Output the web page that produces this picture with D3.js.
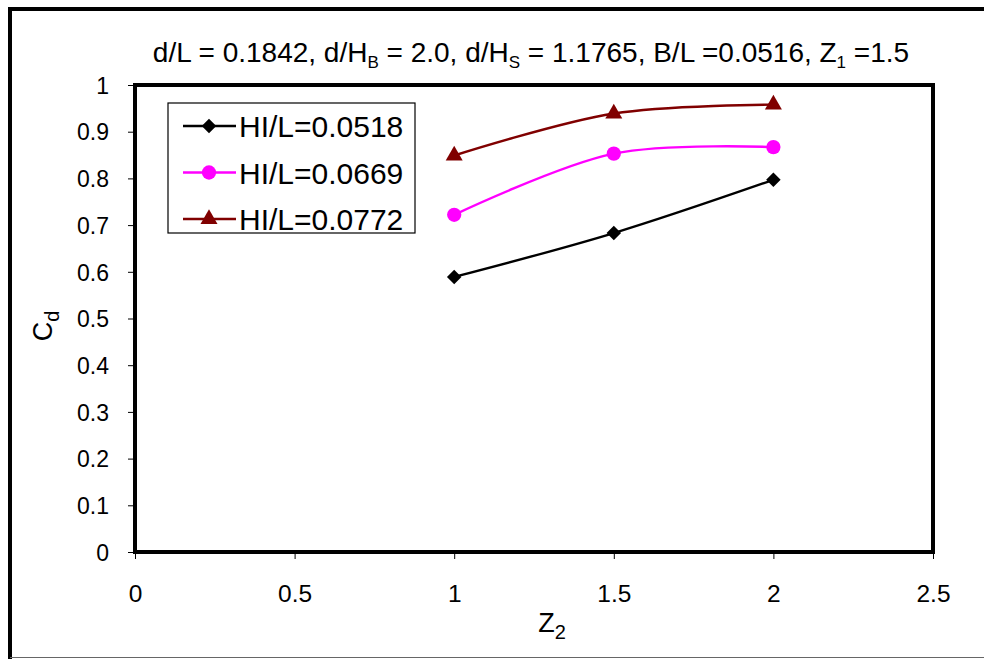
<!DOCTYPE html>
<html>
<head>
<meta charset="utf-8">
<script src="https://cdn.jsdelivr.net/npm/d3@7"></script>
<style>
  body { margin: 0; background: #fff; }
  text { font-family: "Liberation Sans", Arial, sans-serif; }
</style>
</head>
<body>
<svg width="984" height="659"></svg>
<script>
const z2 = [1, 1.5, 2];
const hl0518 = [0.589, 0.683, 0.797];
const hl0669 = [0.722, 0.853, 0.867];
const hl0772 = [0.849, 0.939, 0.958];
const seriesNames = ["HI/L=0.0518", "HI/L=0.0669", "HI/L=0.0772"];
const seriesColors = ["#000000", "#ff00ff", "#800000"];
const xTicks = [0, 0.5, 1, 1.5, 2, 2.5];
const yTicks = [0, 0.1, 0.2, 0.3, 0.4, 0.5, 0.6, 0.7, 0.8, 0.9, 1];

const svg = d3.select("svg");
const pLeft = 135, pRight = 933, pTop = 85, pBottom = 552;

const x = d3.scaleLinear().domain([0, 2.5]).range([pLeft, pRight]);
const y = d3.scaleLinear().domain([0, 1]).range([pBottom, pTop]);

// outer frame
svg.append("rect").attr("x", 10).attr("y", 9).attr("width", 1000).attr("height", 660)
  .attr("fill", "none").attr("stroke", "#000").attr("stroke-width", 4);
svg.append("line").attr("x1", 10).attr("x2", 984).attr("y1", 657.5).attr("y2", 657.5)
  .attr("stroke", "#666").attr("stroke-width", 1);

// axes
const xAxis = svg.append("g").attr("transform", `translate(0,${pBottom})`)
  .call(d3.axisBottom(x).tickValues(xTicks).tickFormat(d3.format("")).tickSize(7).tickSizeOuter(0));
const yAxis = svg.append("g").attr("transform", `translate(${pLeft},0)`)
  .call(d3.axisLeft(y).tickValues(yTicks).tickFormat(d3.format("")).tickSize(7).tickSizeOuter(0));
[xAxis, yAxis].forEach(g => {
  g.select(".domain").remove();
  g.selectAll("line").attr("stroke", "#000").attr("stroke-width", 1);
  g.selectAll("text").attr("fill", "#000")
    .attr("font-family", "Liberation Sans, Arial, sans-serif");
});
xAxis.selectAll("text").attr("font-size", 24.5).attr("y", 50).attr("dy", 0);
yAxis.selectAll("text").attr("font-size", 23).attr("x", -26).attr("dy", "0.36em");

// plot frame
svg.append("rect").attr("x", pLeft).attr("y", pTop)
  .attr("width", pRight - pLeft).attr("height", pBottom - pTop)
  .attr("fill", "none").attr("stroke", "#000").attr("stroke-width", 4);

// title
const title = svg.append("text").attr("x", 531).attr("y", 62).attr("text-anchor", "middle")
  .attr("font-size", 28).attr("fill", "#000");
title.append("tspan").text("d/L = 0.1842, d/H");
title.append("tspan").text("B").attr("font-size", 17).attr("dy", 6);
title.append("tspan").text(" = 2.0, d/H").attr("dy", -6);
title.append("tspan").text("S").attr("font-size", 17).attr("dy", 6);
title.append("tspan").text(" = 1.1765, B/L =0.0516, Z").attr("dy", -6);
title.append("tspan").text("1").attr("font-size", 17).attr("dy", 6);
title.append("tspan").text(" =1.5").attr("dy", -6);

// axis titles
const xt = svg.append("text").attr("x", 552).attr("y", 632).attr("text-anchor", "middle")
  .attr("font-size", 27).attr("fill", "#000");
xt.append("tspan").text("Z");
xt.append("tspan").text("2").attr("font-size", 20).attr("dy", 7);

const yt = svg.append("text").attr("transform", "translate(52,326) rotate(-90)")
  .attr("text-anchor", "middle").attr("font-size", 27).attr("fill", "#000");
yt.append("tspan").text("C");
yt.append("tspan").text("d").attr("font-size", 20).attr("dy", 7);

// series
const allSeries = [hl0518, hl0669, hl0772];
const line = d3.line().x(d => x(d[0])).y(d => y(d[1])).curve(d3.curveCatmullRom.alpha(0.5));
const symbols = [
  d3.symbol().type(d3.symbolSquare).size(105),
  d3.symbol().type(d3.symbolCircle).size(160),
  d3.symbol().type(d3.symbolTriangle).size(125)
];
const symRot = [45, 0, 0];

allSeries.forEach((vals, i) => {
  const pts = z2.map((v, j) => [v, vals[j]]);
  svg.append("path").datum(pts).attr("d", line)
    .attr("fill", "none").attr("stroke", seriesColors[i]).attr("stroke-width", 2.4);
  svg.append("g").selectAll("path").data(pts).enter().append("path")
    .attr("d", symbols[i])
    .attr("transform", d => `translate(${x(d[0])},${y(d[1])}) rotate(${symRot[i]})`)
    .attr("fill", seriesColors[i]);
});

// legend
const lg = svg.append("g");
lg.append("rect").attr("x", 168).attr("y", 103).attr("width", 247).attr("height", 130)
  .attr("fill", "#fff").attr("stroke", "#000").attr("stroke-width", 1.2);
seriesNames.forEach((name, i) => {
  const ly = 126 + i * 46.5;
  lg.append("line").attr("x1", 183).attr("x2", 236).attr("y1", ly).attr("y2", ly)
    .attr("stroke", seriesColors[i]).attr("stroke-width", 2.4);
  lg.append("path").attr("d", symbols[i])
    .attr("transform", `translate(209,${ly}) rotate(${symRot[i]})`)
    .attr("fill", seriesColors[i]);
  lg.append("text").attr("x", 239).attr("y", ly + 11)
    .attr("font-size", 30).attr("fill", "#000").text(name);
});
</script>
</body>
</html>
